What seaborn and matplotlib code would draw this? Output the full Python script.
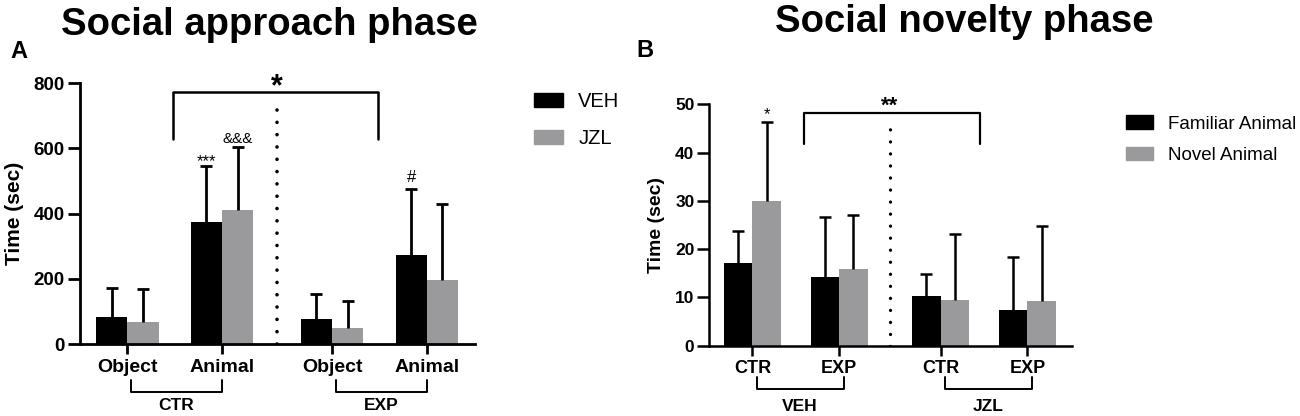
import numpy as np
import pandas as pd
import matplotlib.pyplot as plt
import seaborn as sns
from matplotlib.patches import Patch

# Panel A - social approach phase
a_pos = [0, 1, 2.16, 3.16]
a_ticklabels = ['Object', 'Animal', 'Object', 'Animal']
a_groups = ['CTR', 'EXP']
a_hue = ['VEH', 'JZL']
a_veh_mean = [82, 375, 76, 274]
a_veh_sd = [91, 170, 78, 201]
a_jzl_mean = [69, 412, 49, 197]
a_jzl_sd = [101, 192, 82, 232]
a_yticks = [0, 200, 400, 600, 800]

# Panel B - social novelty phase
b_pos = [0, 1, 2.17, 3.17]
b_ticklabels = ['CTR', 'EXP', 'CTR', 'EXP']
b_groups = ['VEH', 'JZL']
b_hue = ['Familiar Animal', 'Novel Animal']
b_fam_mean = [17.2, 14.2, 10.3, 7.4]
b_fam_sd = [6.6, 12.4, 4.5, 11.0]
b_nov_mean = [29.9, 15.8, 9.5, 9.2]
b_nov_sd = [16.4, 11.3, 13.6, 15.7]
b_yticks = [0, 10, 20, 30, 40, 50]

BLACK = '#000000'
GREY = '#9a9a9c'

sns.set_style('ticks')
plt.rcParams['font.family'] = ['Liberation Sans', 'DejaVu Sans']
plt.rcParams.update({
    'text.color': 'black',
    'axes.labelcolor': 'black',
    'axes.edgecolor': 'black',
    'xtick.color': 'black',
    'ytick.color': 'black',
})


def draw_panel(ax, pos, means, sds, hue_names, ticklabels, yticks, tick_fs, lw, xpad):
    df = pd.DataFrame({
        'x': list(pos) * 2,
        'hue': [hue_names[0]] * len(pos) + [hue_names[1]] * len(pos),
        'y': list(means[0]) + list(means[1]),
    })
    sns.barplot(data=df, x='x', y='y', hue='hue', hue_order=hue_names,
                native_scale=True, palette=[BLACK, GREY], width=0.66,
                errorbar=None, saturation=1, legend=False, edgecolor='none',
                linewidth=0, ax=ax)

    # upward-only error bars, SD
    tops = []
    for cont, sd in zip(ax.containers, sds):
        bars = sorted(cont, key=lambda b: b.get_x())
        cx = [b.get_x() + b.get_width() / 2 for b in bars]
        h = [b.get_height() for b in bars]
        _, caps, _ = ax.errorbar(cx, h, yerr=[np.zeros(len(sd)), sd], fmt='none',
                                 ecolor='black', elinewidth=lw, capsize=4.5,
                                 capthick=lw, clip_on=False, zorder=3)
        for cl in caps:
            if np.allclose(cl.get_ydata(), h):
                cl.remove()
        tops.append([(c, hh + s) for c, hh, s in zip(cx, h, sd)])

    sns.despine(ax=ax)
    for s in ['left', 'bottom']:
        ax.spines[s].set_linewidth(lw)
    ax.set_xticks(pos)
    ax.set_xticklabels(ticklabels, fontsize=tick_fs, fontweight='bold')
    ax.set_yticks(yticks)
    ax.set_ylim(yticks[0], yticks[-1])
    ax.set_xlim(pos[0] - 0.5, pos[-1] + 0.51)
    ax.tick_params(axis='x', length=7.5, width=lw, pad=xpad)
    ax.tick_params(axis='y', length=8.5, width=lw, pad=2.5)
    ax.set_xlabel('')
    return tops


def group_bracket(ax, x0, x1, label, y_h, y_leg, y_txt, fs, lw=1.4):
    tr = ax.get_xaxis_transform()
    ax.plot([x0, x0, x1, x1], [y_leg, y_h, y_h, y_leg], color='black',
            lw=lw, transform=tr, clip_on=False)
    ax.text((x0 + x1) / 2, y_txt, label, transform=tr, ha='center',
            va='center', fontsize=fs, fontweight='bold')


fig = plt.figure(figsize=(13, 4.16), dpi=100)
ax_a = fig.add_axes([0.0615, 0.173, 0.304, 0.627])
ax_b = fig.add_axes([0.5454, 0.169, 0.279, 0.580])

# ---- Panel A ----
tops_a = draw_panel(ax_a, a_pos, [a_veh_mean, a_jzl_mean], [a_veh_sd, a_jzl_sd],
                    a_hue, a_ticklabels, a_yticks, 14, 2.0, 3.5)
for lab in ax_a.get_yticklabels():
    lab.set_fontsize(13.5)
    lab.set_fontweight('bold')
ax_a.set_ylabel('Time (sec)', fontsize=15, fontweight='bold')
ax_a.yaxis.set_label_coords(-0.142, 0.5)

mid_a = (a_pos[1] + a_pos[2]) / 2
ax_a.plot([mid_a, mid_a], [0, 743], color='black', lw=2.6,
          linestyle=(0, (0.01, 3.4)), dash_capstyle='round')
ax_a.plot([0.48, 0.48, 2.65, 2.65], [628, 773, 773, 628], color='black',
          lw=1.8, clip_on=False)
ax_a.annotate('*', (mid_a, 773), xytext=(0, -2), textcoords='offset points',
              ha='center', va='baseline', fontsize=22, fontweight='bold',
              annotation_clip=False)
ax_a.annotate('***', tops_a[0][1], xytext=(0, 0), textcoords='offset points',
              ha='center', va='baseline', fontsize=12)
ax_a.annotate('&&&', tops_a[1][1], xytext=(0, 3), textcoords='offset points',
              ha='center', va='baseline', fontsize=11)
ax_a.annotate('#', tops_a[0][3], xytext=(0, 5), textcoords='offset points',
              ha='center', va='baseline', fontsize=12)

for i, g in enumerate(a_groups):
    x0, x1 = a_pos[2 * i], a_pos[2 * i + 1]
    group_bracket(ax_a, x0 + 0.04, x1, g, -0.184, -0.138, -0.234, 12.5)

ax_a.legend([Patch(color=BLACK), Patch(color=GREY)], a_hue, loc='upper left',
            bbox_to_anchor=(1.149, 0.965), frameon=False, borderpad=0,
            borderaxespad=0, handlelength=1.45, handleheight=0.7,
            handletextpad=0.75, labelspacing=0.88, fontsize=14.5)

# ---- Panel B ----
tops_b = draw_panel(ax_b, b_pos, [b_fam_mean, b_nov_mean], [b_fam_sd, b_nov_sd],
                    b_hue, b_ticklabels, b_yticks, 13, 1.8, 2.7)
for lab in ax_b.get_yticklabels():
    lab.set_fontsize(12.5)
    lab.set_fontweight('bold')
ax_b.tick_params(axis='y', pad=2)
ax_b.set_ylabel('Time (sec)', fontsize=14, fontweight='bold')
ax_b.yaxis.set_label_coords(-0.121, 0.5)

mid_b = (b_pos[1] + b_pos[2]) / 2
ax_b.plot([mid_b, mid_b], [0, 46.4], color='black', lw=2.4,
          linestyle=(0, (0.01, 3.6)), dash_capstyle='round')
ax_b.plot([0.59, 0.59, 2.62, 2.62], [41.8, 48.3, 48.3, 41.8], color='black',
          lw=1.6, clip_on=False)
ax_b.annotate('**', (mid_b, 48.3), xytext=(0, 1), textcoords='offset points',
              ha='center', va='baseline', fontsize=16, fontweight='bold',
              annotation_clip=False)
ax_b.annotate('*', tops_b[1][0], xytext=(0, 2), textcoords='offset points',
              ha='center', va='baseline', fontsize=12)

for i, g in enumerate(b_groups):
    x0, x1 = b_pos[2 * i], b_pos[2 * i + 1]
    group_bracket(ax_b, x0 + 0.05, x1 + 0.05, g, -0.179, -0.128, -0.253, 12.5)

ax_b.legend([Patch(color=BLACK), Patch(color=GREY)], b_hue, loc='upper left',
            bbox_to_anchor=(1.149, 0.955), frameon=False, borderpad=0,
            borderaxespad=0, handlelength=1.45, handleheight=0.72,
            handletextpad=0.8, labelspacing=0.75, fontsize=13.5)

# titles and panel letters
fig.text(269 / 1300, 1 - 35 / 416, 'Social approach phase', ha='center',
         va='baseline', fontsize=27.5, fontweight='bold')
fig.text(964 / 1300, 1 - 32 / 416, 'Social novelty phase', ha='center',
         va='baseline', fontsize=27.5, fontweight='bold')
fig.text(10 / 1300, 1 - 58 / 416, 'A', ha='left', va='baseline',
         fontsize=17, fontweight='bold')
fig.text(636 / 1300, 1 - 57 / 416, 'B', ha='left', va='baseline',
         fontsize=17, fontweight='bold')

fig.savefig('out.png', dpi=100)
